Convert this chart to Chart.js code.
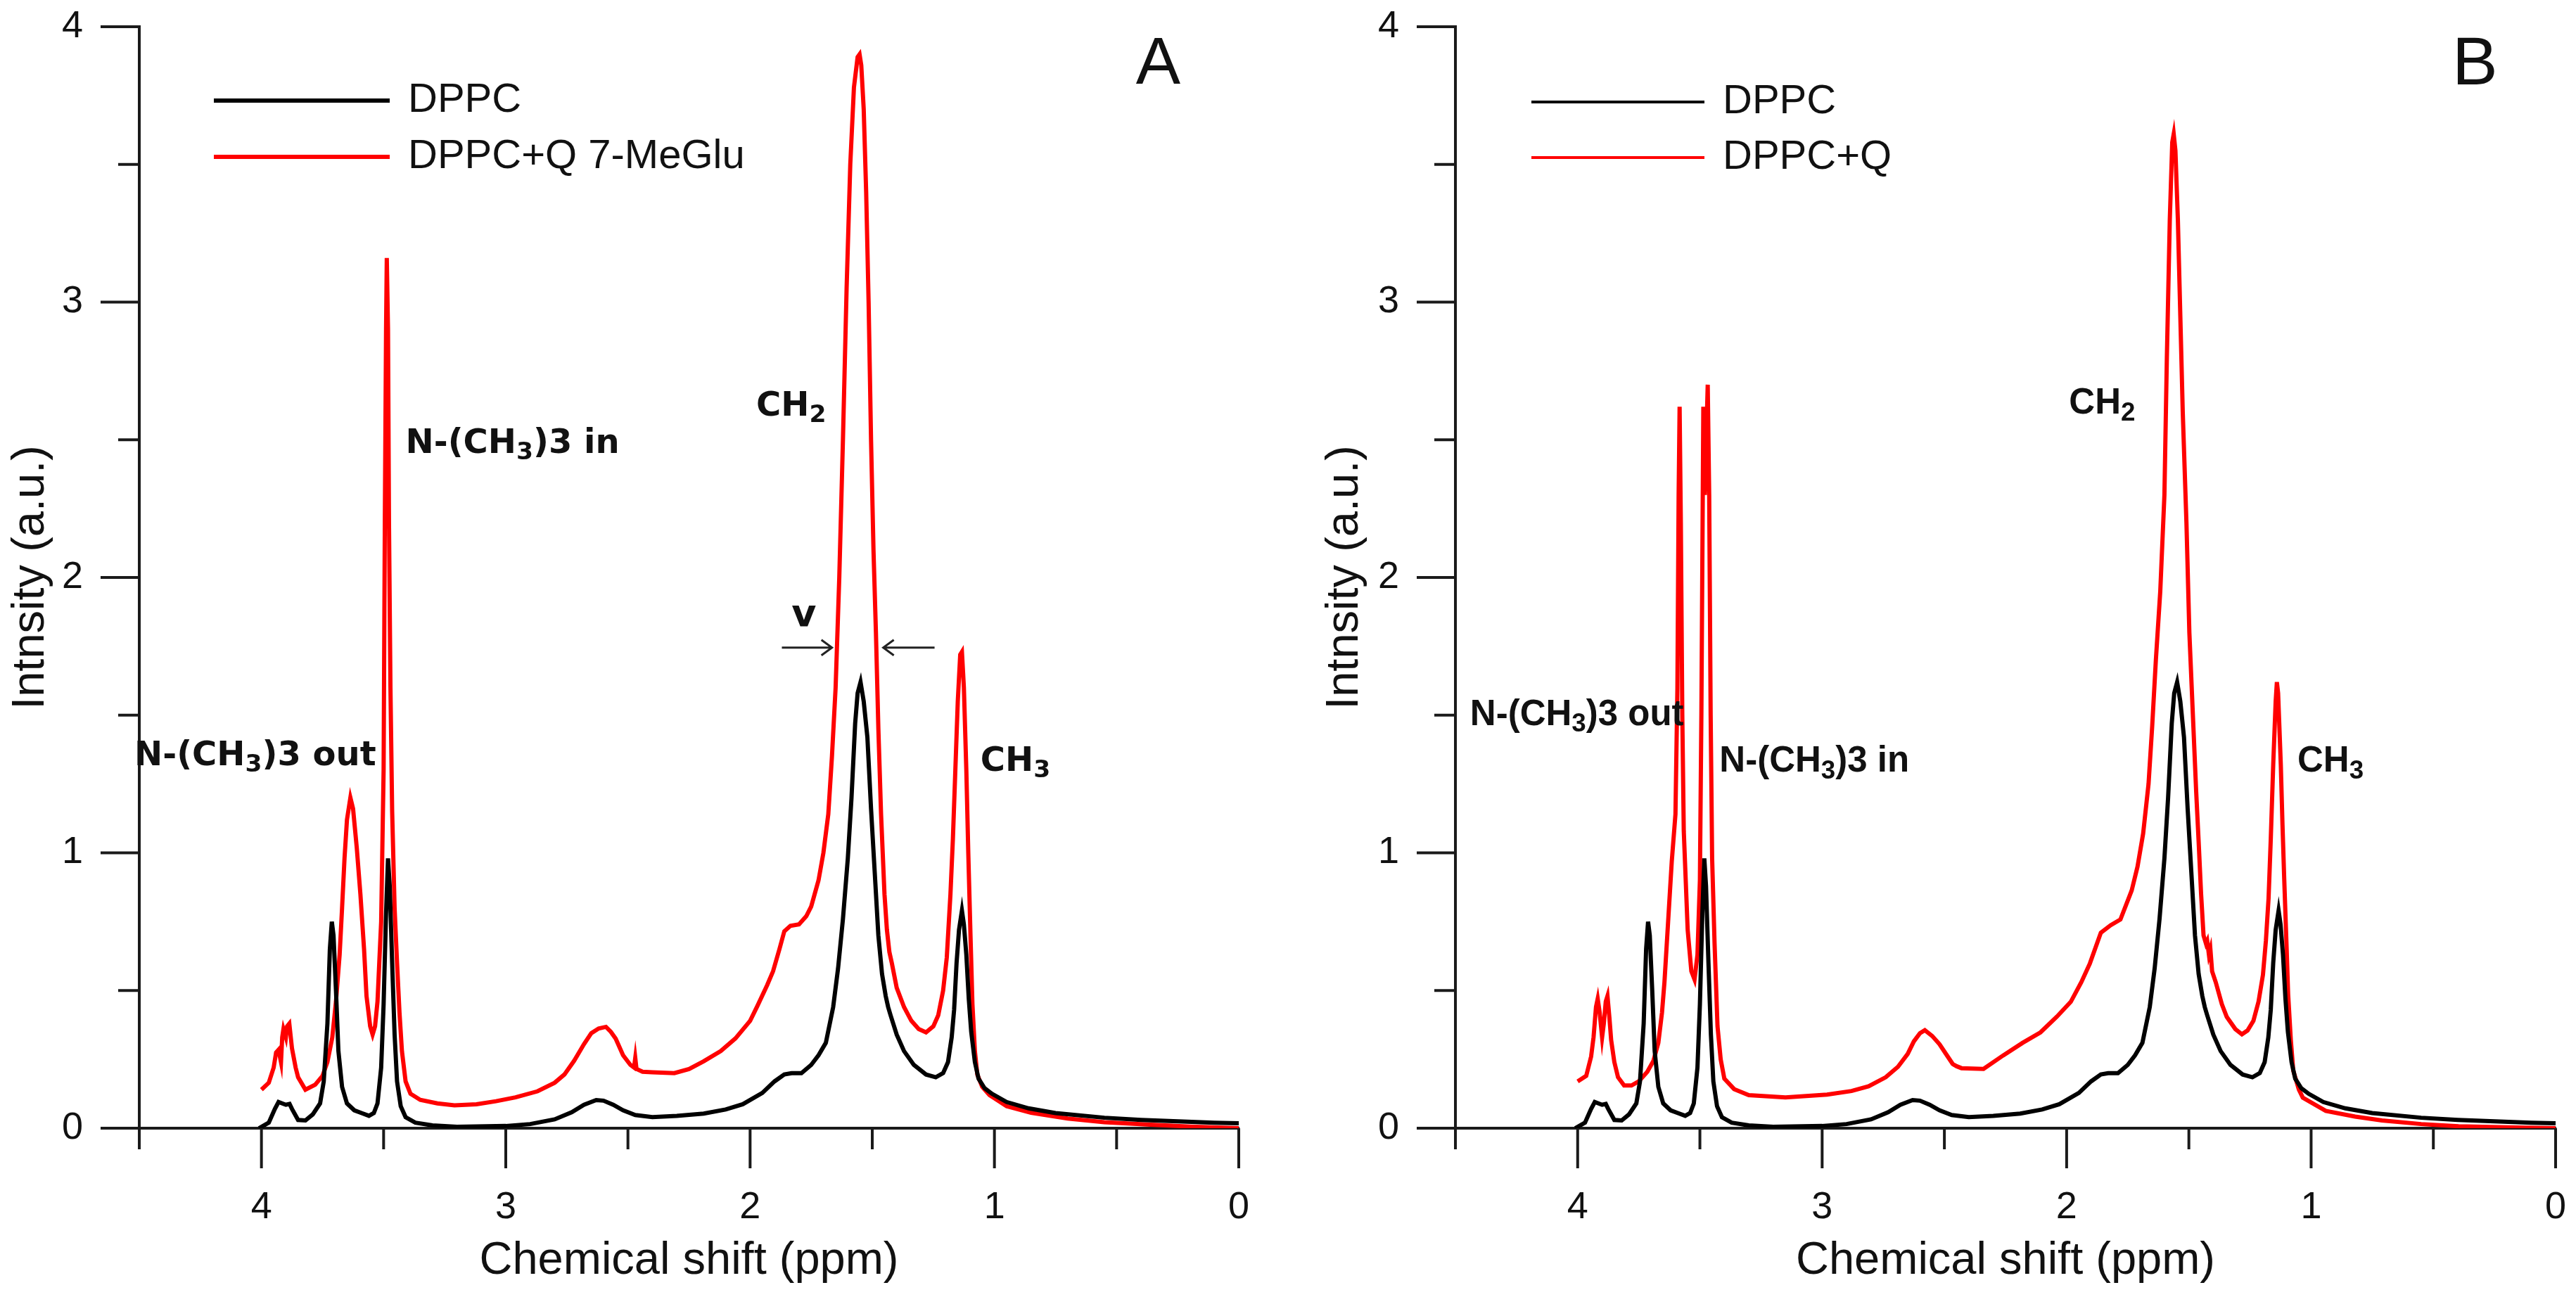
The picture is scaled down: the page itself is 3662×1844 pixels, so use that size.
<!DOCTYPE html>
<html>
<head>
<meta charset="utf-8">
<script src="https://cdn.jsdelivr.net/npm/chart.js@4.4.1/dist/chart.umd.min.js"></script>
<style>
  html, body { margin: 0; padding: 0; background: #fff; }
  body { width: 3662px; height: 1844px; position: relative; overflow: hidden; }
  canvas { position: absolute; top: 0; }
</style>
</head>
<body>
<canvas id="chartA" width="1831" height="1844" style="left:0"></canvas>
<canvas id="chartB" width="1831" height="1844" style="left:1831px"></canvas>
<script>
// 1H NMR spectra (ppm, a.u.)
const dppcShift = [4.01, 3.97, 3.945, 3.93, 3.915, 3.90, 3.885, 3.875, 3.85, 3.82, 3.79, 3.76, 3.745, 3.73, 3.72, 3.712, 3.705, 3.695, 3.685, 3.67, 3.65, 3.62, 3.59, 3.56, 3.54, 3.525, 3.51, 3.50, 3.49, 3.482, 3.475, 3.465, 3.455, 3.445, 3.43, 3.41, 3.37, 3.3, 3.2, 3.0, 2.9, 2.8, 2.73, 2.68, 2.63, 2.60, 2.56, 2.52, 2.47, 2.40, 2.30, 2.19, 2.10, 2.03, 1.95, 1.90, 1.86, 1.83, 1.79, 1.75, 1.72, 1.69, 1.66, 1.64, 1.62, 1.60, 1.585, 1.57, 1.56, 1.548, 1.535, 1.52, 1.505, 1.49, 1.475, 1.46, 1.445, 1.435, 1.425, 1.40, 1.37, 1.33, 1.28, 1.24, 1.21, 1.19, 1.175, 1.165, 1.155, 1.145, 1.133, 1.125, 1.115, 1.105, 1.095, 1.08, 1.065, 1.04, 1.01, 0.95, 0.86, 0.75, 0.55, 0.40, 0.23, 0.10, 0.0];
const dppcIntensity = [0, 0.02, 0.07, 0.095, 0.09, 0.085, 0.088, 0.07, 0.03, 0.028, 0.05, 0.09, 0.17, 0.38, 0.65, 0.75, 0.70, 0.50, 0.28, 0.15, 0.09, 0.065, 0.055, 0.045, 0.055, 0.09, 0.22, 0.45, 0.78, 0.98, 0.88, 0.6, 0.34, 0.17, 0.08, 0.04, 0.02, 0.01, 0.005, 0.008, 0.015, 0.032, 0.058, 0.085, 0.102, 0.10, 0.085, 0.065, 0.048, 0.04, 0.045, 0.053, 0.068, 0.087, 0.128, 0.17, 0.195, 0.2, 0.2, 0.23, 0.265, 0.31, 0.44, 0.58, 0.76, 0.98, 1.2, 1.47, 1.58, 1.62, 1.55, 1.42, 1.16, 0.93, 0.70, 0.56, 0.48, 0.44, 0.41, 0.34, 0.28, 0.23, 0.195, 0.185, 0.2, 0.24, 0.33, 0.43, 0.6, 0.72, 0.79, 0.74, 0.63, 0.47, 0.35, 0.24, 0.18, 0.145, 0.125, 0.095, 0.072, 0.055, 0.038, 0.03, 0.024, 0.02, 0.018];

const meGluShift = [4.0, 3.97, 3.95, 3.94, 3.93, 3.92, 3.915, 3.91, 3.90, 3.895, 3.886, 3.875, 3.86, 3.85, 3.82, 3.78, 3.75, 3.73, 3.71, 3.695, 3.68, 3.67, 3.66, 3.65, 3.636, 3.625, 3.61, 3.595, 3.58, 3.57, 3.555, 3.545, 3.535, 3.525, 3.51, 3.50, 3.495, 3.49, 3.487, 3.482, 3.478, 3.472, 3.465, 3.455, 3.445, 3.435, 3.425, 3.41, 3.39, 3.35, 3.28, 3.21, 3.12, 3.04, 2.96, 2.87, 2.80, 2.76, 2.72, 2.68, 2.65, 2.62, 2.59, 2.57, 2.55, 2.52, 2.49, 2.475, 2.47, 2.465, 2.44, 2.40, 2.31, 2.25, 2.19, 2.12, 2.06, 2.00, 1.97, 1.93, 1.906, 1.88, 1.86, 1.835, 1.80, 1.77, 1.75, 1.72, 1.70, 1.68, 1.665, 1.65, 1.635, 1.62, 1.605, 1.59, 1.575, 1.56, 1.552, 1.545, 1.535, 1.525, 1.515, 1.505, 1.495, 1.485, 1.475, 1.464, 1.45, 1.44, 1.43, 1.42, 1.40, 1.37, 1.34, 1.31, 1.28, 1.25, 1.23, 1.21, 1.195, 1.18, 1.17, 1.16, 1.15, 1.14, 1.133, 1.125, 1.115, 1.107, 1.098, 1.09, 1.08, 1.07, 1.05, 1.02, 0.95, 0.85, 0.70, 0.55, 0.39, 0.2, 0.0];
const meGluIntensity = [0.14, 0.165, 0.22, 0.275, 0.285, 0.24, 0.33, 0.36, 0.33, 0.37, 0.38, 0.29, 0.22, 0.185, 0.14, 0.158, 0.19, 0.24, 0.33, 0.46, 0.63, 0.80, 0.98, 1.12, 1.20, 1.16, 1.02, 0.85, 0.65, 0.48, 0.37, 0.34, 0.37, 0.46, 0.75, 1.3, 2.2, 2.9, 3.16, 2.9, 2.2, 1.6, 1.15, 0.8, 0.6, 0.42, 0.28, 0.17, 0.125, 0.103, 0.09, 0.083, 0.087, 0.098, 0.112, 0.134, 0.165, 0.195, 0.245, 0.305, 0.345, 0.362, 0.368, 0.35, 0.325, 0.265, 0.23, 0.22, 0.255, 0.215, 0.205, 0.203, 0.2, 0.215, 0.243, 0.28, 0.326, 0.39, 0.444, 0.52, 0.57, 0.65, 0.715, 0.735, 0.74, 0.77, 0.805, 0.9, 1.0, 1.14, 1.35, 1.6, 2.0, 2.5, 3.05, 3.5, 3.78, 3.89, 3.9, 3.86, 3.7, 3.4, 3.0, 2.5, 2.1, 1.8, 1.45, 1.14, 0.85, 0.72, 0.64, 0.6, 0.51, 0.44, 0.39, 0.36, 0.348, 0.37, 0.41, 0.5, 0.62, 0.85, 1.05, 1.3, 1.55, 1.72, 1.73, 1.6, 1.3, 1.0, 0.7, 0.45, 0.28, 0.195, 0.15, 0.12, 0.08, 0.056, 0.035, 0.022, 0.014, 0.006, 0.0];

const quercetinShift = [4.0, 3.965, 3.945, 3.935, 3.925, 3.918, 3.91, 3.90, 3.893, 3.885, 3.878, 3.87, 3.863, 3.85, 3.835, 3.81, 3.78, 3.75, 3.715, 3.69, 3.67, 3.655, 3.645, 3.63, 3.615, 3.60, 3.592, 3.587, 3.583, 3.578, 3.572, 3.566, 3.55, 3.535, 3.522, 3.51, 3.50, 3.494, 3.489, 3.486, 3.48, 3.474, 3.468, 3.462, 3.456, 3.45, 3.44, 3.428, 3.415, 3.40, 3.36, 3.30, 3.15, 2.98, 2.88, 2.81, 2.74, 2.69, 2.65, 2.625, 2.60, 2.58, 2.55, 2.52, 2.49, 2.466, 2.45, 2.43, 2.34, 2.26, 2.18, 2.107, 2.04, 1.983, 1.94, 1.905, 1.88, 1.86, 1.82, 1.78, 1.734, 1.71, 1.687, 1.665, 1.65, 1.635, 1.617, 1.60, 1.59, 1.578, 1.568, 1.562, 1.555, 1.545, 1.535, 1.525, 1.51, 1.498, 1.485, 1.47, 1.46, 1.45, 1.44, 1.43, 1.425, 1.418, 1.412, 1.405, 1.39, 1.365, 1.345, 1.31, 1.283, 1.26, 1.236, 1.215, 1.197, 1.185, 1.174, 1.165, 1.155, 1.145, 1.14, 1.135, 1.124, 1.117, 1.11, 1.10, 1.094, 1.083, 1.073, 1.05, 1.034, 0.94, 0.82, 0.71, 0.55, 0.397, 0.2, 0.0];
const quercetinIntensity = [0.17, 0.19, 0.26, 0.33, 0.44, 0.47, 0.42, 0.33, 0.38, 0.46, 0.48, 0.40, 0.32, 0.24, 0.185, 0.155, 0.155, 0.17, 0.205, 0.245, 0.31, 0.42, 0.53, 0.75, 0.97, 1.14, 1.6, 2.3, 2.62, 2.2, 1.5, 1.08, 0.72, 0.57, 0.54, 0.63, 0.9, 1.5, 2.2, 2.62, 2.3, 2.5, 2.70, 2.3, 1.5, 0.98, 0.67, 0.37, 0.25, 0.18, 0.142, 0.12, 0.112, 0.122, 0.135, 0.152, 0.185, 0.223, 0.27, 0.315, 0.345, 0.356, 0.335, 0.305, 0.265, 0.233, 0.225, 0.218, 0.215, 0.264, 0.31, 0.348, 0.405, 0.459, 0.53, 0.598, 0.66, 0.71, 0.737, 0.758, 0.863, 0.95, 1.07, 1.25, 1.46, 1.7, 1.95, 2.3, 2.8, 3.3, 3.58, 3.61, 3.55, 3.3, 2.95, 2.6, 2.2, 1.8, 1.53, 1.22, 1.04, 0.85, 0.70, 0.67, 0.68, 0.63, 0.65, 0.57, 0.53, 0.45, 0.404, 0.36, 0.341, 0.355, 0.39, 0.46, 0.557, 0.68, 0.835, 1.05, 1.32, 1.55, 1.62, 1.58, 1.32, 1.1, 0.905, 0.65, 0.487, 0.32, 0.209, 0.14, 0.111, 0.063, 0.042, 0.028, 0.015, 0.007, 0.003, 0.0];

const shiftLabels = [4, 3, 2, 1, 0];
const intensityLabels = [0, 1, 2, 3, 4];

const FONT = '"Liberation Sans", Arial, Helvetica, sans-serif';

function points(xs, ys) {
  return xs.map((x, i) => ({ x: x, y: ys[i] }));
}

// ticks, legend, peak labels
const spectrumDecor = {
  id: 'spectrumDecor',
  afterDraw(chart, args, opts) {
    const { ctx, chartArea: area, scales: { x, y } } = chart;
    ctx.save();

    ctx.strokeStyle = '#1a1a1a';
    ctx.lineWidth = 4;
    ctx.beginPath();
    x.ticks.forEach(t => {
      const px = x.getPixelForValue(t.value);
      const len = shiftLabels.includes(t.value) ? 57 : 30;
      ctx.moveTo(px, area.bottom);
      ctx.lineTo(px, area.bottom + len);
    });
    y.ticks.forEach(t => {
      const py = y.getPixelForValue(t.value);
      const len = intensityLabels.includes(t.value) ? 55 : 30;
      ctx.moveTo(area.left, py);
      ctx.lineTo(area.left - len, py);
    });
    ctx.stroke();

    // legend
    const lg = opts.legend;
    ctx.textBaseline = 'middle';
    ctx.textAlign = 'left';
    ctx.font = lg.size + 'px ' + FONT;
    chart.data.datasets.forEach((ds, i) => {
      const ly = area.top + lg.rows[i];
      const lx = area.left + lg.dx;
      ctx.strokeStyle = ds.borderColor;
      ctx.lineWidth = lg.lineWidth;
      ctx.beginPath();
      ctx.moveTo(lx, ly);
      ctx.lineTo(lx + lg.length, ly);
      ctx.stroke();
      ctx.fillStyle = '#111';
      ctx.fillText(ds.label, lx + lg.length + lg.gap, ly);
    });

    // peak labels
    ctx.fillStyle = '#111';
    opts.labels.forEach(lb => {
      let cx = x.getPixelForValue(lb.at[0]);
      const cy = y.getPixelForValue(lb.at[1]);
      lb.parts.forEach(([text, sub]) => {
        const s = sub ? lb.size * 0.72 : lb.size;
        ctx.font = (lb.weight || 'bold') + ' ' + s + 'px ' + (lb.font || FONT);
        ctx.textAlign = lb.center ? 'center' : 'left';
        ctx.fillText(text, cx, sub ? cy + lb.size * 0.26 : cy);
        cx += ctx.measureText(text).width;
      });
    });

    // width arrows
    ctx.strokeStyle = '#222';
    ctx.lineWidth = 3;
    (opts.arrows || []).forEach(ar => {
      const x0 = x.getPixelForValue(ar.from), x1 = x.getPixelForValue(ar.to);
      const py = y.getPixelForValue(ar.level);
      const dir = Math.sign(x1 - x0);
      ctx.beginPath();
      ctx.moveTo(x0, py);
      ctx.lineTo(x1, py);
      ctx.moveTo(x1 - dir * 15, py - 11);
      ctx.lineTo(x1, py);
      ctx.lineTo(x1 - dir * 15, py + 11);
      ctx.stroke();
    });

    ctx.restore();
  }
};

// fixed axis box, no extra label padding pushed into the layout
function pinScale(scale, size) {
  if (scale.isHorizontal()) scale.height = size;
  else scale.width = size;
  scale.paddingTop = 0;
  scale.paddingBottom = 0;
  scale.paddingLeft = 0;
  scale.paddingRight = 0;
}

function makeChart(id, sample, cfg) {
  return new Chart(document.getElementById(id), {
    type: 'line',
    data: {
      datasets: [
        {
          label: 'DPPC',
          data: points(dppcShift, dppcIntensity),
          borderColor: '#000000',
          borderWidth: 6,
          order: 0
        },
        {
          label: sample.label,
          data: points(sample.shift, sample.intensity),
          borderColor: '#ff0000',
          borderWidth: 6,
          order: 1
        }
      ]
    },
    options: {
      responsive: false,
      animation: false,
      devicePixelRatio: 1,
      layout: { padding: { left: 0, right: cfg.right, top: cfg.top, bottom: 0 } },
      elements: { point: { radius: 0 }, line: { tension: 0 } },
      plugins: {
        legend: { display: false },
        tooltip: { enabled: false },
        spectrumDecor: { legend: cfg.legend, labels: cfg.labels, arrows: cfg.arrows }
      },
      scales: {
        x: {
          type: 'linear',
          reverse: true,
          min: 0,
          max: 4.5,
          afterFit(scale) { pinScale(scale, 1844 - cfg.bottom); },
          border: { display: true, color: '#1a1a1a', width: 4 },
          grid: { display: true, drawOnChartArea: false, drawTicks: false },
          ticks: {
            stepSize: 0.5,
            autoSkip: false,
            maxRotation: 0,
            padding: 86,
            color: '#111',
            font: { family: FONT, size: 54, lineHeight: 1 },
            callback: v => shiftLabels.includes(v) ? String(v) : ''
          },
          title: {
            display: true,
            text: 'Chemical shift (ppm)',
            color: '#111',
            font: { family: FONT, size: 65, lineHeight: 1.2 },
            padding: { top: 0, bottom: 12 }
          }
        },
        y: {
          min: 0,
          max: 4,
          afterFit(scale) { pinScale(scale, cfg.left); },
          border: { display: true, color: '#1a1a1a', width: 4 },
          grid: { display: true, drawOnChartArea: false, drawTicks: false },
          ticks: {
            stepSize: 0.5,
            autoSkip: false,
            padding: 80,
            color: '#111',
            font: { family: FONT, size: 54, lineHeight: 1 },
            callback: v => intensityLabels.includes(v) ? String(v) : ''
          },
          title: {
            display: true,
            text: 'Intnsity (a.u.)',
            color: '#111',
            font: { family: FONT, size: 65, lineHeight: 1.2 },
            padding: { top: cfg.yTitlePad, bottom: 0 }
          }
        }
      }
    },
    plugins: [spectrumDecor]
  });
}

const wideBold = '"DejaVu Sans", Verdana, sans-serif';

makeChart('chartA',
  { label: 'DPPC+Q 7-MeGlu', shift: meGluShift, intensity: meGluIntensity },
  {
    left: 198, right: 70, top: 38, bottom: 1604, yTitlePad: 5,
    legend: { dx: 106, length: 250, gap: 26, rows: [105, 185], lineWidth: 6, size: 58 },
    labels: [
      { parts: [['N-(CH', 0], ['3', 1], [')3 out', 0]], at: [4.52, 1.35], size: 48, font: wideBold },
      { parts: [['N-(CH', 0], ['3', 1], [')3 in', 0]], at: [3.41, 2.485], size: 48, font: wideBold },
      { parts: [['CH', 0], ['2', 1]], at: [1.975, 2.62], size: 48, font: wideBold },
      { parts: [['CH', 0], ['3', 1]], at: [1.057, 1.33], size: 48, font: wideBold },
      { parts: [['v', 0]], at: [1.78, 1.86], size: 54, font: wideBold, center: true },
      { parts: [['A', 0]], at: [0.33, 3.86], size: 95, weight: 'normal', center: true }
    ],
    arrows: [
      { from: 1.87, to: 1.665, level: 1.745 },
      { from: 1.245, to: 1.455, level: 1.745 }
    ]
  });

makeChart('chartB',
  { label: 'DPPC+Q', shift: quercetinShift, intensity: quercetinIntensity },
  {
    left: 238, right: 29, top: 38, bottom: 1604, yTitlePad: 42,
    legend: { dx: 108, length: 246, gap: 26, rows: [107, 186], lineWidth: 4, size: 58 },
    labels: [
      { parts: [['N-(CH', 0], ['3', 1], [')3 out', 0]], at: [4.44, 1.50], size: 51 },
      { parts: [['N-(CH', 0], ['3', 1], [')3 in', 0]], at: [3.42, 1.33], size: 51 },
      { parts: [['CH', 0], ['2', 1]], at: [1.99, 2.63], size: 51 },
      { parts: [['CH', 0], ['3', 1]], at: [1.056, 1.33], size: 51 },
      { parts: [['B', 0]], at: [0.33, 3.86], size: 97, weight: 'normal', center: true }
    ]
  });
</script>
</body>
</html>
